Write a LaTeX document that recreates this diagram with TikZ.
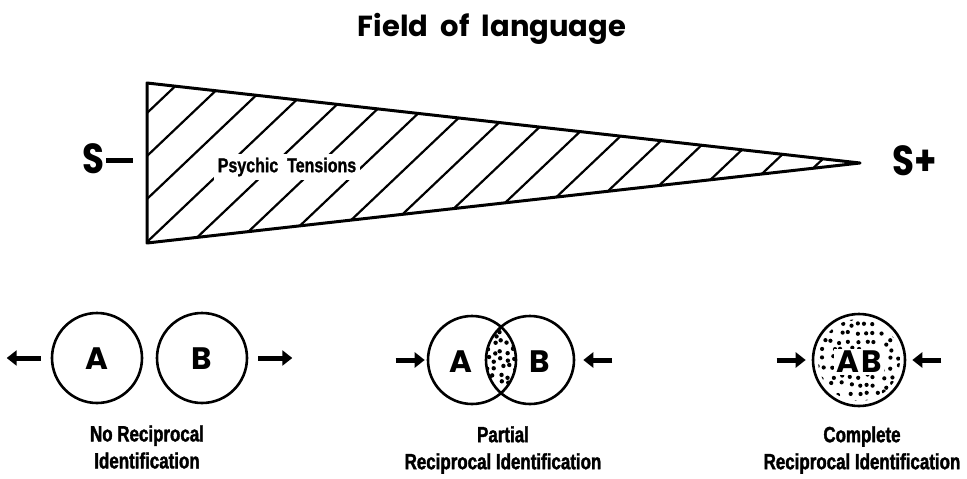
\documentclass[tikz,border=0pt]{standalone}
\usepackage{fontspec}
\usetikzlibrary{arrows.meta}
\newfontfamily\headfont{Poppins}
\newfontfamily\signfont[FakeStretch=0.85]{Poppins}
\newfontfamily\labfont[FakeStretch=0.77, FakeBold=1.6]{Liberation Sans}
\newfontfamily\ptfont[FakeStretch=0.8, FakeBold=1.2]{Liberation Sans}
\tikzset{
  outline/.style={line width=3pt, line join=round},
  hatch/.style={line width=2.2pt},
  circ/.style={circle, draw, line width=2.6pt, minimum size=90pt, inner sep=0pt},
  letter/.style={inner sep=0pt, font=\headfont\bfseries\fontsize{31}{33}\selectfont},
  arr/.style={line width=5pt, -{Triangle[length=10pt,width=15pt]}},
  lab/.style={align=center, font=\labfont\bfseries\fontsize{22}{27}\selectfont},
  sign/.style={font=\signfont\bfseries\fontsize{42}{44}\selectfont, inner sep=0pt},
  dot/.style={fill=black}
}
\begin{document}
\begin{tikzpicture}[x=1pt,y=-1pt]
\useasboundingbox (0,0) rectangle (967,479);
\fill[white] (0,0) rectangle (967,479);
% title
\node[anchor=base, inner sep=0pt, font=\headfont\bfseries\fontsize{29}{32}\selectfont] (title) at (492,36) {Field\ \ of\ \ language};
% triangle
\coordinate (TL) at (147,83);
\coordinate (BL) at (147,243);
\coordinate (AP) at (860,163);
\begin{scope}
  \clip (TL) -- (AP) -- (BL) -- cycle;
  \foreach \n in {0,...,16} {
    \draw[hatch] (147,{113+43*\n}) -- ++(800,-760);
  }
\end{scope}
\node[fill=white, inner sep=4pt, font=\ptfont\bfseries\fontsize{20}{24}\selectfont] (pt) at (287,167) {Psychic\ \ Tensions};
\draw[outline] (TL) -- (AP) -- (BL) -- cycle;
\node[sign, anchor=base west] (sm) at (82,173) {S\kern2pt\rule[10pt]{27pt}{5pt}};
\node[sign, anchor=base west] (sp) at (892,175) {S+};
% group 1
\node[circ] (A1) at (97,358) {};
\node[circ] (B1) at (202,358) {};
\node[letter] (tA1) at (97,359) {A};
\node[letter] (tB1) at (202,359) {B};
\draw[arr] ([xshift=-10pt]A1.west) -- ([xshift=-44pt]A1.west);
\draw[arr] ([xshift=10pt]B1.east) -- ([xshift=44pt]B1.east);
\node[lab] (L1) at (147,447) {No Reciprocal\\Identification};
% group 2
\begin{scope}
  \clip (472,360) circle (43pt);
  \clip (530,360) circle (43pt);
  \pgfmathsetseed{7}
  \foreach \i in {0,...,4} {
    \foreach \j in {0,...,11} {
      \fill[dot] ({485+7*\i+rnd*5},{316+8*\j+rnd*6}) circle (2.2pt);
    }
  }
\end{scope}
\node[circ, minimum size=88pt] (A2) at (472,360) {};
\node[circ, minimum size=88pt] (B2) at (530,360) {};
\node[letter] (tA) at (461,362) {A};
\node[letter] (tB) at (540,362) {B};
\draw[arr] ([xshift=-31pt]A2.west) -- ([xshift=-2pt]A2.west);
\draw[arr] ([xshift=37pt]B2.east) -- ([xshift=8pt]B2.east);
\node[lab] (L2) at (503,450) {Partial\\Reciprocal Identification};
% group 3
\begin{scope}
  \clip (859,360) circle (41pt);
  \pgfmathsetseed{11}
  \foreach \i in {0,...,10} {
    \foreach \j in {0,...,10} {
      \fill[dot] ({812+8.6*\i+rnd*6},{313+8.6*\j+rnd*6}) circle (2.1pt);
    }
  }
\end{scope}
\node[letter, fill=white, inner sep=2pt] (tAB) at (859,362) {A\kern2pt B};
\node[circ, minimum size=92pt] (C3) at (859,360) {};
\draw[arr] ([xshift=-35pt]C3.west) -- ([xshift=-6pt]C3.west);
\draw[arr] ([xshift=35pt]C3.east) -- ([xshift=6pt]C3.east);
\node[lab] (L3) at (862,450) {Complete\\Reciprocal Identification};
\end{tikzpicture}
\end{document}
